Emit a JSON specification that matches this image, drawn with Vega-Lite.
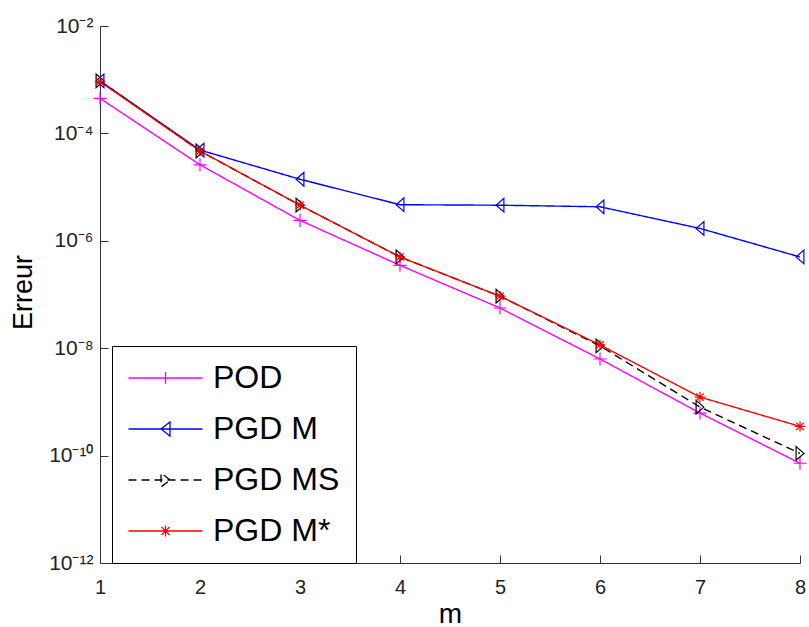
{
  "$schema": "https://vega.github.io/schema/vega-lite/v6.json",
  "width": 700,
  "height": 537,
  "autosize": {"type": "none"},
  "padding": {"left": 100, "top": 26, "right": 9, "bottom": 64},
  "background": "white",
  "config": {
    "view": {"stroke": null},
    "axis": {"grid": false}
  },
  "data": {
    "values": [
      {"m": 1, "series": "POD", "err": 4.5e-4},
      {"m": 2, "series": "POD", "err": 2.6e-5},
      {"m": 3, "series": "POD", "err": 2.4e-6},
      {"m": 4, "series": "POD", "err": 3.5e-7},
      {"m": 5, "series": "POD", "err": 5.6e-8},
      {"m": 6, "series": "POD", "err": 6.3e-9},
      {"m": 7, "series": "POD", "err": 6.2e-10},
      {"m": 8, "series": "POD", "err": 7.2e-11},
      {"m": 1, "series": "PGD M", "err": 9.5e-4},
      {"m": 2, "series": "PGD M", "err": 4.9e-5},
      {"m": 3, "series": "PGD M", "err": 1.4e-5},
      {"m": 4, "series": "PGD M", "err": 4.7e-6},
      {"m": 5, "series": "PGD M", "err": 4.6e-6},
      {"m": 6, "series": "PGD M", "err": 4.3e-6},
      {"m": 7, "series": "PGD M", "err": 1.7e-6},
      {"m": 8, "series": "PGD M", "err": 5.0e-7},
      {"m": 1, "series": "PGD MS", "err": 9.5e-4},
      {"m": 2, "series": "PGD MS", "err": 4.7e-5},
      {"m": 3, "series": "PGD MS", "err": 4.6e-6},
      {"m": 4, "series": "PGD MS", "err": 5.0e-7},
      {"m": 5, "series": "PGD MS", "err": 9.3e-8},
      {"m": 6, "series": "PGD MS", "err": 1.1e-8},
      {"m": 7, "series": "PGD MS", "err": 8.0e-10},
      {"m": 8, "series": "PGD MS", "err": 1.1e-10},
      {"m": 1, "series": "PGD M*", "err": 9.2e-4},
      {"m": 2, "series": "PGD M*", "err": 4.7e-5},
      {"m": 3, "series": "PGD M*", "err": 4.6e-6},
      {"m": 4, "series": "PGD M*", "err": 5.0e-7},
      {"m": 5, "series": "PGD M*", "err": 9.3e-8},
      {"m": 6, "series": "PGD M*", "err": 1.15e-8},
      {"m": 7, "series": "PGD M*", "err": 1.23e-9},
      {"m": 8, "series": "PGD M*", "err": 3.5e-10}
    ]
  },
  "encoding": {
    "x": {
      "field": "m", "type": "quantitative",
      "scale": {"domain": [1, 8], "nice": false, "zero": false},
      "axis": {
        "values": [1, 2, 3, 4, 5, 6, 7, 8], "format": "d",
        "tickSize": -8, "labelPadding": 22, "labelFlush": false, "labelOverlap": false,
        "domainColor": "#333", "tickColor": "#333", "labelColor": "#222",
        "labelFont": "Liberation Sans Narrow, Liberation Sans", "labelFontSize": 20,
        "labelBaseline": "top",
        "title": "m", "titleFont": "Liberation Sans", "titleFontSize": 28,
        "titleFontWeight": "normal", "titleColor": "black",
        "titleY": 59, "titleBaseline": "alphabetic"
      }
    },
    "y": {
      "field": "err", "type": "quantitative",
      "scale": {"type": "log", "domain": [1e-12, 1e-2], "nice": false},
      "axis": {
        "values": [1e-12, 1e-10, 1e-8, 1e-6, 1e-4, 1e-2],
        "labelExpr": "'10' + replace(replace(replace(replace(replace(replace(replace(toString(round(log(datum.value)/LN10)),'-','⁻'),'0','⁰'),'1','¹'),'2','²'),'4','⁴'),'6','⁶'),'8','⁸')",
        "tickSize": -8, "labelPadding": 15, "labelOverlap": false,
        "domainColor": "#333", "tickColor": "#333", "labelColor": "#222",
        "labelFont": "Liberation Sans Narrow, Liberation Sans", "labelFontSize": 21,
        "title": "Erreur", "titleFont": "Liberation Sans", "titleFontSize": 27,
        "titleFontWeight": "normal", "titleColor": "black",
        "titleX": -77, "titleY": 266, "titleAngle": -90,
        "titleAlign": "center", "titleBaseline": "middle"
      }
    }
  },
  "layer": [
    {
      "mark": {"type": "line", "strokeWidth": 1.4},
      "encoding": {
        "color": {
          "field": "series", "type": "nominal",
          "scale": {"domain": ["POD", "PGD M", "PGD MS", "PGD M*"], "range": ["#ff00ff", "#0000ff", "#000000", "#ff0000"]},
          "legend": {
            "title": null,
            "orient": "none", "legendX": 12, "legendY": 320,
            "strokeColor": "black", "fillColor": "white", "padding": 16,
            "rowPadding": 19, "symbolSize": 400, "symbolStrokeWidth": 1.3,
            "symbolOffset": 21.5, "labelOffset": 31.5,
            "labelFont": "Liberation Sans", "labelFontSize": 32, "labelColor": "black",
            "labelLimit": 400,
            "encode": {
              "symbols": {
                "update": {
                  "shape": {"signal": "datum.value === 'POD' ? 'M-3.7,0H3.7M0,-0.6V0.6' : datum.value === 'PGD M' ? 'M-3.7,0H3.7M-0.45,0L0.45,-0.7L0.45,0.7Z' : datum.value === 'PGD MS' ? 'M-3.7,0H3.7M0.45,0L-0.45,-0.7L-0.45,0.7Z' : 'M-3.7,0H3.7M0,-0.55V0.55M-0.4,-0.4L0.4,0.4M-0.4,0.4L0.4,-0.4'"},
                  "strokeDash": {"signal": "datum.value === 'PGD MS' ? [8, 5] : [1, 0]"},
                  "fill": {"value": "transparent"}
                }
              }
            }
          }
        },
        "strokeDash": {
          "field": "series", "type": "nominal",
          "scale": {"domain": ["POD", "PGD M", "PGD MS", "PGD M*"], "range": [[1, 0], [1, 0], [8, 5], [1, 0]]},
          "legend": null
        }
      }
    },
    {
      "transform": [{"filter": "datum.series === 'POD'"}],
      "mark": {"type": "point", "filled": false, "strokeWidth": 1.2, "size": 169, "opacity": 1, "color": "#ff00ff", "shape": "M-1,0H1M0,-1V1"}
    },
    {
      "transform": [{"filter": "datum.series === 'PGD M'"}],
      "mark": {"type": "point", "filled": false, "strokeWidth": 1.2, "size": 169, "opacity": 1, "color": "#0000ff", "shape": "M-0.6,0L0.6,-1.05L0.6,1.05Z"}
    },
    {
      "transform": [{"filter": "datum.series === 'PGD MS'"}],
      "mark": {"type": "point", "filled": false, "strokeWidth": 1.2, "size": 169, "opacity": 1, "color": "#000000", "shape": "M0.6,0L-0.6,-1.05L-0.6,1.05Z"}
    },
    {
      "transform": [{"filter": "datum.series === 'PGD M*'"}],
      "mark": {"type": "point", "filled": false, "strokeWidth": 1.2, "size": 169, "opacity": 1, "color": "#ff0000", "shape": "M-0.8,0H0.8M0,-0.8V0.8M-0.57,-0.57L0.57,0.57M-0.57,0.57L0.57,-0.57"}
    }
  ]
}
